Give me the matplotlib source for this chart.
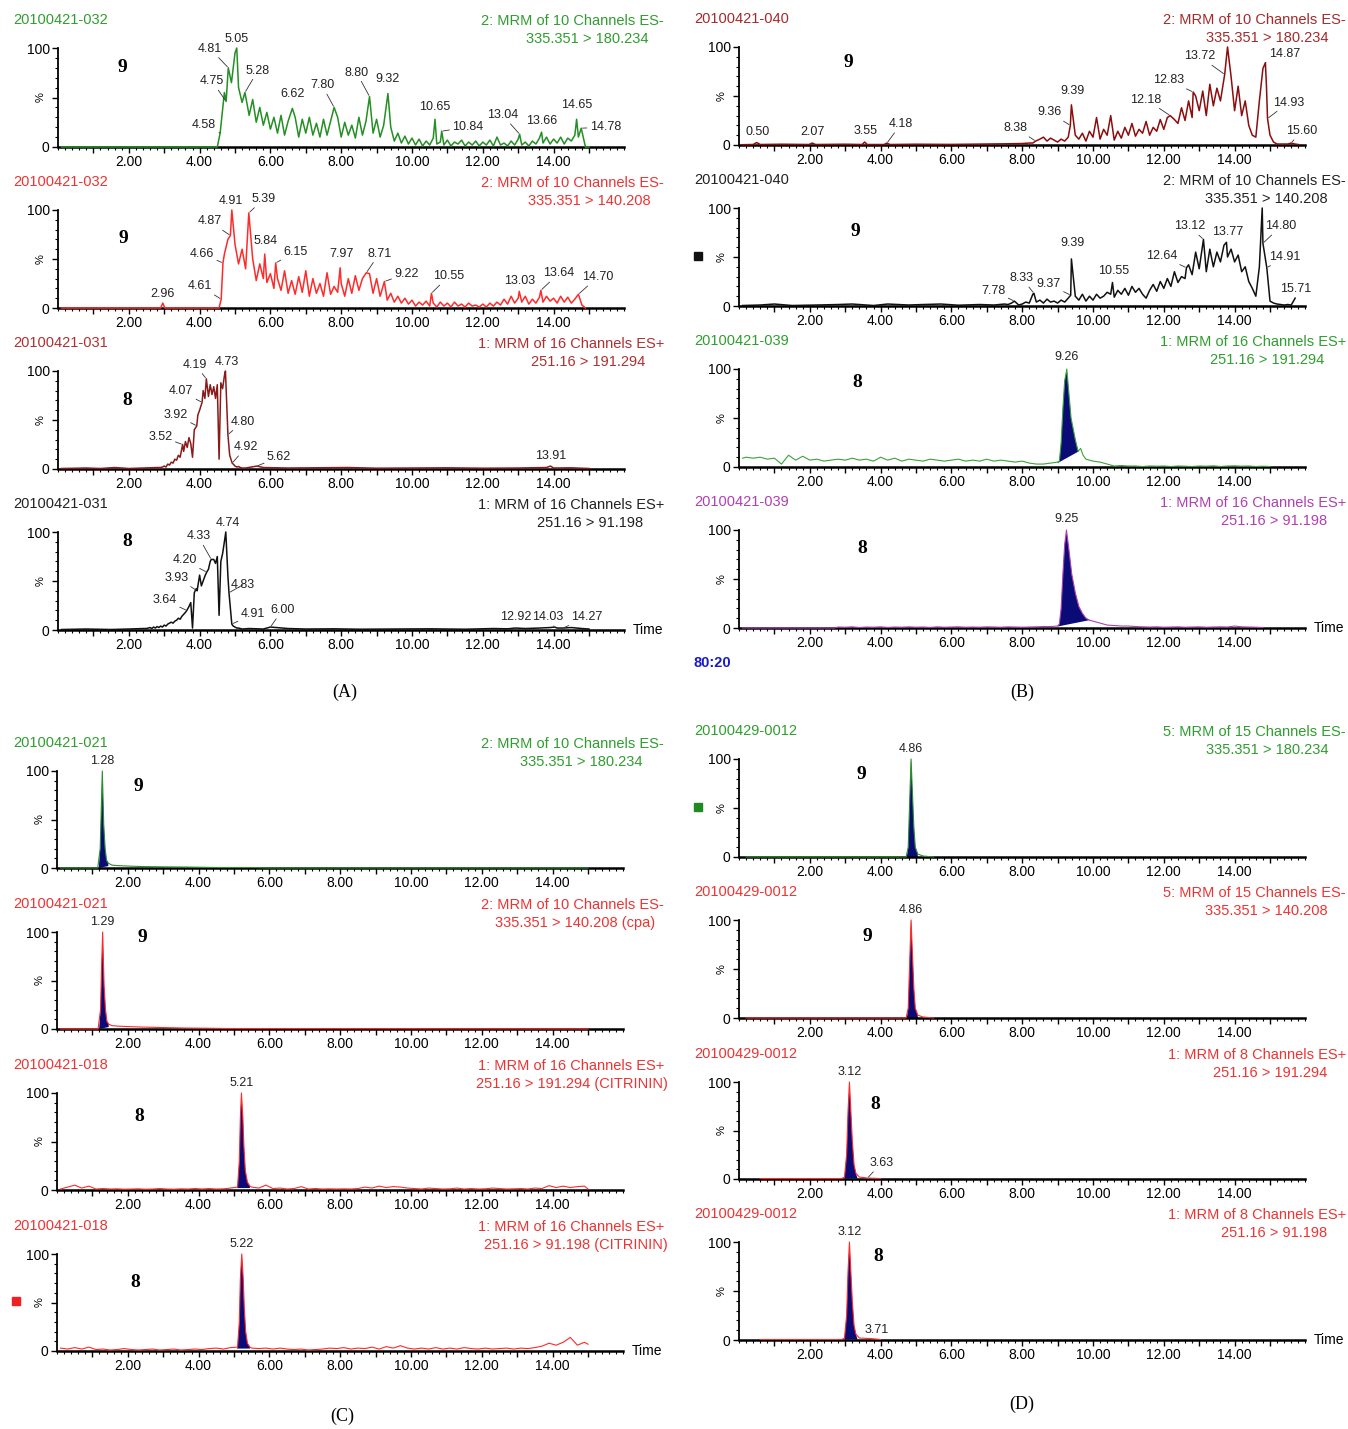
import numpy as np
import matplotlib.pyplot as plt
from matplotlib.patches import Rectangle
from matplotlib.ticker import MultipleLocator

plt.rcParams['font.family'] = ['Liberation Sans', 'DejaVu Sans']

W, H = 1348, 1429
PX_MIN = 35.4          # pixels per minute on the time axis
NAVY = '#0b0b78'

# ---------------- data (times in min, intensity in %) ----------------
# (A) 20100421-032 / -031
a1_base_t, a1_base_y = [0.1], [0]
a1_grid_t0, a1_grid_dt = 4.5, 0.1
a1_grid = [0, 35, 55, 90, 65,
           95, 60, 45, 40, 32, 48, 25, 40, 22, 35,
           18, 30, 14, 32, 12, 26, 20, 30, 10, 28,
           14, 30, 12, 24, 10, 28, 12, 26, 15, 30,
           10, 25, 12, 22, 9, 30, 12, 26, 20, 14,
           28, 10, 22, 14, 20, 6, 14, 4, 11, 3,
           9, 2, 8, 1, 6, 2, 9, 3, 5, 2,
           7, 1, 5, 3, 7, 1, 5, 2, 6, 1,
           5, 2, 7, 1, 10, 2, 4, 1, 6, 2,
           8, 2, 5, 1, 6, 3, 9, 4, 10, 3,
           8, 4, 10, 3, 9, 6, 12, 10, 5, 0,
           0]
a1_pk_t = [4.58, 4.75, 4.81, 5.05, 5.28, 6.62, 7.80, 8.80, 9.32, 10.65, 10.84, 13.04, 13.66, 14.65, 14.78]
a1_pk_y = [14, 46, 80, 100, 55, 39, 40, 51, 54, 28, 16, 13, 15, 28, 19]

a2_base_t, a2_base_y = [0.1, 2.9, 3.02, 4.55, 14.9], [0, 0, 0, 0, 0]
a2_grid_t0, a2_grid_dt = 4.6, 0.1
a2_grid = [3, 55, 70, 60,
           65, 45, 60, 40, 35, 50, 28, 45, 30, 26,
           35, 20, 30, 18, 38, 15, 28, 14, 32, 16,
           38, 12, 30, 15, 25, 12, 36, 14, 22, 16,
           25, 12, 30, 15, 33, 18, 30, 22, 35, 15,
           30, 12, 20, 8, 15, 6, 12, 5, 10, 4,
           8, 2, 6, 3, 7, 2, 5, 1, 6, 2,
           5, 1, 6, 2, 4, 1, 5, 2, 3, 1,
           4, 1, 5, 2, 6, 3, 9, 4, 12, 5,
           10, 6, 12, 4, 9, 5, 11, 6, 12, 7,
           10, 5, 12, 6, 11, 5, 9, 8, 3]
a2_pk_t = [2.96, 4.61, 4.66, 4.87, 4.91, 5.39, 5.84, 6.15, 7.97, 8.71, 9.22, 10.55, 13.03, 13.64, 14.70]
a2_pk_y = [5, 9, 46, 74, 100, 97, 55, 46, 41, 36, 27, 15, 17, 18, 14]

a3_base_t = [0.1, 0.8, 1.2, 1.6, 2.0, 2.4, 2.8, 5.3, 5.8, 6.5, 7.2, 8.2, 9.0, 10.0, 11.0, 12.0, 13.0, 13.8, 14.0, 14.5, 15.0]
a3_base_y = [0.5, 1, 0.5, 1.5, 0.5, 1, 1.5, 1, 1.5, 1, 1.2, 1.5, 0.8, 1, 1.2, 0.8, 1, 1.5, 1, 1.2, 0.5]
a3_grid_t0, a3_grid_dt = 2.9, 0.05
a3_grid = [1.5, 2, 3, 2, 5, 4, 7, 6, 10, 9, 14, 12,
           20, 18, 28, 22, 32, 26, 12, 40, 38, 55,
           60, 58, 80, 72, 88, 74, 86, 76, 84, 72,
           86, 10, 88, 82, 95, 70, 35, 14, 8, 5,
           3, 2, 2.5, 1.5, 1]
a3_pk_t = [3.52, 3.92, 4.07, 4.19, 4.73, 4.80, 4.92, 5.62, 13.91]
a3_pk_y = [25, 44, 68, 92, 100, 35, 6, 3, 3]

a4_base_t = [0.1, 0.8, 1.5, 2.0, 2.4, 5.4, 5.8, 6.5, 7.0, 7.8, 8.5, 9.5, 10.5, 11.5, 12.3, 12.7, 13.2, 13.6, 13.9, 14.1, 14.5, 14.8, 15.0]
a4_base_y = [0.5, 1, 0.5, 1, 1.5, 1.5, 1, 1.5, 1, 1.2, 0.8, 1, 1.2, 0.8, 1.5, 1.2, 1.5, 2, 2.5, 2, 2.5, 1.5, 1]
a4_grid_t0, a4_grid_dt = 2.5, 0.05
a4_grid = [1.5, 2, 2.5, 1.5, 3, 2, 3.5, 2.5, 4, 3,
           5, 4, 6, 7, 8, 7, 9, 10, 12, 11,
           14, 16, 18, 20, 24, 28, 2, 38, 42, 36,
           56, 45, 50, 55, 60, 62, 70, 65, 72, 68,
           75, 15, 70, 78, 90, 85, 55, 20, 8, 4,
           3, 2, 2, 1.5, 1]
a4_pk_t = [3.64, 3.93, 4.20, 4.33, 4.74, 4.83, 4.91, 6.00, 12.92, 14.03, 14.27]
a4_pk_y = [20, 40, 59, 72, 100, 38, 6, 3, 2, 3, 2]

# (B) 20100421-040 / -039
b1_base_t = [0.1, 0.4, 0.6, 1.2, 1.98, 2.16, 3.0, 3.48, 3.62, 4.1, 4.26, 5.0, 6.0, 7.0, 7.5, 8.0, 8.2, 15.3, 15.5, 15.7, 15.8]
b1_base_y = [0.3, 0.5, 0.5, 0.8, 0.5, 0.5, 0.8, 0.5, 0.5, 0.5, 0.5, 0.8, 0.6, 1, 1.2, 1.5, 2, 1, 1, 1, 0.5]
b1_grid_t0, b1_grid_dt = 8.3, 0.1
b1_grid = [2, 5, 6, 8, 4, 7, 5,
           3, 6, 4, 8, 15, 10, 6, 12, 4, 14,
           8, 28, 6, 16, 10, 30, 5, 14, 7, 18,
           10, 22, 9, 16, 12, 24, 10, 18, 14, 26,
           16, 28, 18, 26, 22, 38, 25, 45, 28, 50,
           35, 55, 30, 62, 40, 58, 45, 80, 42, 70,
           35, 60, 30, 45, 20, 10, 8, 45, 78, 60,
           10, 3, 1]
b1_spk_t, b1_spk_y = [13.80], [100]
b1_pk_t = [0.50, 2.07, 3.55, 4.18, 8.38, 9.36, 9.39, 12.18, 12.83, 13.72, 14.87, 14.93, 15.60]
b1_pk_y = [2.5, 2, 3, 2, 4, 20, 41, 30, 54, 72, 84, 27, 2]

b2_base_t = [0.1, 0.6, 1.0, 1.5, 2.2, 2.8, 3.2, 3.8, 4.2, 4.8, 5.2, 5.7, 6.2, 6.8, 7.2, 7.5]
b2_base_y = [0.5, 1, 2, 0.5, 1, 1.5, 2, 0.5, 2, 1, 1.5, 2, 0.8, 1.5, 1, 2]
b2_grid_t0, b2_grid_dt = 7.6, 0.1
b2_grid = [1.5, 3, 2, 1,
           2, 4, 3, 12, 4, 6, 3, 7, 4, 5,
           3, 6, 4, 8, 12, 10, 6, 12, 5, 10,
           6, 12, 8, 10, 14, 12, 9, 16, 12, 18,
           11, 20, 14, 18, 12, 8, 16, 22, 15, 25,
           18, 28, 20, 35, 24, 30, 28, 42, 32, 55,
           38, 50, 35, 58, 40, 55, 45, 62, 50, 58,
           45, 52, 35, 40, 25, 18, 10, 40, 55, 30,
           5, 3, 2, 1.5, 1, 1.5, 1]
b2_spk_t, b2_spk_y = [14.78], [100]
b2_pk_t = [7.78, 8.33, 9.37, 9.39, 10.55, 12.64, 13.12, 13.77, 14.80, 14.91, 15.71]
b2_pk_y = [5, 13, 11, 48, 24, 39, 68, 65, 64, 39, 8]

b3_grid_t0, b3_grid_dt = 0.2, 0.2
b3_grid = [10, 9, 10, 8, 9, 3, 12, 7, 11, 7,
           8, 6, 7, 8, 7, 9, 7, 8, 6, 10,
           7, 9, 6, 8, 7, 6, 8, 7, 6, 7,
           8, 6, 7, 6, 8, 6, 7, 6, 5, 6,
           4, 3, 3, 4, 5, 88, 45, 16, 8, 6,
           5, 3, 1, 1.5, 1, 1, 0.5, 1, 0.8, 1,
           0.5, 1, 0.8, 0.5, 1, 0.8, 1.2, 0.5, 1, 1.2,
           0.8, 1, 0.5, 0.8, 0.5]
b3_spk_t = [0.1, 9.05, 9.1, 9.15, 9.2, 9.32, 9.38, 9.5, 9.58, 9.65, 9.72]
b3_spk_y = [9, 6, 25, 60, 88, 75, 50, 28, 16, 19, 12]
b3_pk_t, b3_pk_y = [9.26], [100]
b3_fill_t, b3_fill_b = [9.0, 9.6], [4, 16]

b4_base_t, b4_base_y = [0.1, 2.7], [0, 0]
b4_grid_t0, b4_grid_dt = 2.8, 0.2
b4_grid = [1, 0.8, 1.2, 0.5, 1, 0.8, 1.2, 0.6, 1, 0.8,
           1.2, 0.8, 1, 0.6, 1.2, 0.8, 1, 1.2, 0.8, 1,
           0.8, 1.2, 1, 0.8, 1.2, 1, 0.8, 1, 1.2, 1.5,
           1.5, 2, 85, 55, 22, 10, 7, 5, 3, 2.5,
           2, 2, 1.5, 1.2, 1, 1.2, 0.8, 1, 1.2, 0.8,
           1, 1.2, 0.8, 1, 1.2, 1, 2, 1.2, 1, 0.8,
           0.5]
b4_spk_t = [9.05, 9.1, 9.15, 9.32, 9.4, 9.5, 9.7, 9.9]
b4_spk_y = [4, 20, 55, 80, 55, 36, 15, 8]
b4_pk_t, b4_pk_y = [9.25], [100]
b4_fill_t, b4_fill_b = [9.0, 9.9], [1.5, 8]

# (C) 20100421-021 / -018
c1_spk_t = [0.1, 1.15, 1.22, 1.25, 1.32, 1.36, 1.4, 1.45, 1.55, 1.7, 2.0, 2.4, 3.0, 3.6, 4.0, 4.5, 5.5, 6.0, 15.0]
c1_spk_y = [0, 0, 20, 60, 45, 20, 8, 5, 3, 2.5, 2, 1.5, 1.2, 1, 0.8, 0.5, 0.5, 0, 0]
c1_pk_t, c1_pk_y = [1.28], [100]
c1_fill_t, c1_fill_b = [1.18, 1.45], [0, 2]

c2_spk_t = [0.1, 1.16, 1.23, 1.26, 1.33, 1.37, 1.41, 1.46, 1.55, 1.7, 2.0, 2.4, 3.0, 3.6, 4.2, 4.8, 15.0]
c2_spk_y = [0, 0, 20, 65, 45, 20, 8, 5, 3.5, 3, 2.5, 2, 1.5, 1, 0.8, 0.5, 0]
c2_pk_t, c2_pk_y = [1.29], [100]
c2_fill_t, c2_fill_b = [1.19, 1.46], [0, 2]

c3_grid_t0, c3_grid_dt = 0.1, 0.2
c3_grid = [1, 3, 5, 2, 4, 1, 1.5, 1, 1.2, 0.8,
           1, 1.2, 0.8, 1, 1.5, 1, 0.8, 1.2, 1, 1.5,
           1, 1.5, 1, 1.2, 2, 5, 20, 3, 2, 5,
           1.5, 2, 1, 1.5, 3.5, 1, 1.5, 1, 1.2, 1,
           1.2, 1, 1.5, 3, 2, 4, 2.5, 3.5, 3, 2,
           1.5, 1, 2, 1.5, 1, 1.2, 2, 1, 1.5, 1,
           1.2, 2, 1.5, 1, 1.2, 1.5, 1, 2, 1.5, 4.5,
           2.5, 4, 2.5, 3.5, 4]
c3_spk_t = [5.1, 5.15, 5.18, 5.25, 5.28, 5.32, 5.38, 5.45, 15.0]
c3_spk_y = [3, 30, 75, 75, 45, 20, 8, 4, 1]
c3_pk_t, c3_pk_y = [5.21], [100]
c3_fill_t, c3_fill_b = [5.08, 5.45], [2, 2]

c4_grid_t0, c4_grid_dt = 0.1, 0.2
c4_grid = [3, 2, 3.5, 2, 4, 1.5, 2, 1, 1.5, 2.5,
           1.5, 1, 1.5, 2, 1, 1.5, 2, 1, 1.5, 2,
           1.5, 2.5, 3, 2, 3.5, 5, 20, 3, 2.5, 3,
           2, 3, 2, 1.5, 2, 1, 1.5, 2, 3, 2.5,
           3.5, 2, 3, 2.5, 4, 2, 4.5, 3, 5.5, 3,
           2, 3, 2, 3.5, 2, 3, 2, 3.5, 2.5, 2,
           3, 2, 2.5, 3, 2, 3, 2.5, 3.5, 5, 8,
           6, 9, 14, 6, 9]
c4_spk_t = [5.1, 5.15, 5.18, 5.26, 5.29, 5.33, 5.38, 5.45, 15.0]
c4_spk_y = [4, 30, 75, 75, 45, 20, 8, 4, 7]
c4_pk_t, c4_pk_y = [5.22], [100]
c4_fill_t, c4_fill_b = [5.08, 5.45], [2.5, 2.5]

# (D) 20100429-0012
d1_spk_t = [0.2, 4.72, 4.78, 4.82, 4.9, 4.94, 4.98, 5.05, 5.2, 5.5]
d1_spk_y = [0, 0, 10, 55, 65, 30, 10, 3, 1, 0]
d1_pk_t, d1_pk_y = [4.86], [100]
d1_fill_t, d1_fill_b = [4.74, 5.05], [0, 0]

d2_spk_t = [0.2, 4.72, 4.78, 4.82, 4.9, 4.94, 4.98, 5.05, 5.2, 5.5]
d2_spk_y = [0, 0, 10, 55, 65, 30, 10, 3, 1, 0]
d2_pk_t, d2_pk_y = [4.86], [100]
d2_fill_t, d2_fill_b = [4.74, 5.05], [0, 0]

d3_spk_t = [0.6, 2.9, 2.98, 3.04, 3.08, 3.16, 3.2, 3.25, 3.3, 3.4, 4.0]
d3_spk_y = [0.5, 0.5, 2, 25, 70, 70, 40, 15, 6, 2, 0.5]
d3_pk_t, d3_pk_y = [3.12, 3.63], [100, 1]
d3_fill_t, d3_fill_b = [2.98, 3.35], [0.5, 0.5]

d4_spk_t = [0.6, 2.9, 2.98, 3.04, 3.08, 3.16, 3.2, 3.25, 3.3, 3.4, 4.0]
d4_spk_y = [0.5, 0.5, 2, 25, 70, 70, 40, 15, 6, 2, 0.5]
d4_pk_t, d4_pk_y = [3.12, 3.71], [100, 1.5]
d4_fill_t, d4_fill_b = [2.98, 3.35], [0.5, 0.5]

# label offsets (pixels, label centre relative to peak)
a1_off = [(-16, 8), (-14, 20), (-18, 19), (0, 9), (13, 22), (0, 14), (-12, 22), (-13, 24), (0, 15),
          (0, 12), (26, 4), (-17, 19), (0, 11), (0, 14), (24, 1)]
a2_off = [(0, 9), (-21, 13), (-21, 9), (-21, 14), (-1, 9), (15, 14), (1, 13), (20, 11), (1, 14),
          (13, 19), (22, 8), (17, 17), (0, 10), (18, 17), (19, 17)]
a3_off = [(-22, 8), (-21, 11), (-21, 11), (-11, 14), (1, 9), (15, 13), (14, 16), (22, 9), (0, 10)]
a4_off = [(-22, 10), (-20, 13), (-22, 12), (-13, 23), (2, 9), (14, 8), (21, 10), (12, 17), (0, 11),
          (-7, 10), (24, 11)]
b1_off = [(1, 11), (0, 11), (1, 11), (14, 19), (-20, 13), (-21, 13), (1, 14), (-24, 16), (-25, 12),
          (-25, 18), (19, 9), (21, 16), (10, 12)]
b2_off = [(-21, 10), (-12, 15), (-22, 11), (1, 16), (1, 11), (-25, 12), (-14, 13), (1, 10), (18, 17),
          (18, 11), (1, 9)]
top_off = [(0, 10)]

# ---------------- helpers ----------------
def grid_times(t0, dt, vals):
    return t0 + dt * np.arange(len(vals))


def build(loose_t, loose_y, fixed_t, fixed_y):
    lt, ly = np.asarray(loose_t, float), np.asarray(loose_y, float)
    ft, fy = np.asarray(fixed_t, float), np.asarray(fixed_y, float)
    if len(ft) and len(lt):
        keep = np.min(np.abs(lt[:, None] - ft[None, :]), axis=1) > 0.025
        lt, ly = lt[keep], ly[keep]
    t = np.concatenate([lt, ft])
    y = np.concatenate([ly, fy])
    o = np.argsort(t, kind='stable')
    return t[o], y[o]


fig = plt.figure(figsize=(W / 100, H / 100), dpi=100)


def ftext(x, y, s, **kw):
    fig.text(x / W, 1 - y / H, s, **kw)


def draw_panel(left, y0, y100, color, tcolor, sample, line1, line2, l2_right,
               cmpd, cmpd_xy, t, y, lab_t, lab_y, lab_off, fill=None, time_label=False, lw=0.8):
    ax = fig.add_axes([left / W, 1 - y0 / H, 16 * PX_MIN / W, (y0 - y100) / H])
    ax.set_xlim(0, 16)
    ax.set_ylim(0, 100)
    ax.patch.set_alpha(0)
    for s in ('top', 'right'):
        ax.spines[s].set_visible(False)
    ax.spines['left'].set_linewidth(1.3)
    ax.spines['bottom'].set_linewidth(1.8)
    ax.set_xticks(range(1, 16))
    ax.set_xticklabels([f'{v}.00' if v % 2 == 0 else '' for v in range(1, 16)])
    ax.xaxis.set_minor_locator(MultipleLocator(0.2))
    ax.set_yticks([0, 50, 100])
    ax.set_yticklabels(['0', '', '100'])
    ax.yaxis.set_minor_locator(MultipleLocator(10))
    ax.tick_params(which='major', length=4, width=1, labelsize=10, pad=2)
    ax.tick_params(which='minor', length=2.2, width=0.8)
    ax.text(-0.03, 0.5, '%', transform=ax.transAxes, rotation=90,
            ha='center', va='center', fontsize=8)

    if fill is not None:
        (f0, f1), (b0, b1) = fill
        m = (t >= f0) & (t <= f1)
        xs = np.concatenate([[f0], t[m], [f1]])
        ys = np.concatenate([[b0], y[m], [b1]])
        ax.fill(xs, ys, color=NAVY, lw=0, zorder=2, clip_on=False)
    ax.plot(t, y, color=color, lw=lw, clip_on=False, zorder=3)

    for pt, py, (dx, dy) in zip(lab_t, lab_y, lab_off):
        lead = abs(dx) > 6
        ax.annotate(f'{pt:.2f}', xy=(pt, py), xytext=(dx, dy), textcoords='offset pixels',
                    ha='center', va='center', fontsize=9, color='#222222',
                    annotation_clip=False, zorder=4,
                    arrowprops=dict(arrowstyle='-', lw=0.6, color='#333333',
                                    shrinkA=0, shrinkB=1) if lead else None)

    ax.text(cmpd_xy[0], cmpd_xy[1], cmpd, family=['Liberation Serif', 'DejaVu Serif'],
            fontweight='bold', fontsize=14, ha='center', va='center')

    right_col = left > 400
    ftext(694 if right_col else 13, y100 - 28, sample, color=tcolor, fontsize=10.5, va='center')
    ftext(1346 if right_col else 664, y100 - 27, line1, color=tcolor, fontsize=10.5,
          va='center', ha='right')
    ftext(l2_right, y100 - 9, line2, color=tcolor, fontsize=10.5, va='center', ha='right')
    if time_label:
        ax.text(1.014, 0, 'Time', transform=ax.transAxes, ha='left', va='center', fontsize=10)
    return ax


GREEN, GREEN_T = '#248f24', '#2f9e2f'
RED, RED_T = '#ff2a2a', '#ee3333'
MAROON, MAROON_T = '#8b1a1a', '#b03030'
BLACK = '#111111'
PURPLE = '#b040b0'

# ---- (A)
t, y = build(a1_base_t + list(grid_times(a1_grid_t0, a1_grid_dt, a1_grid)),
             a1_base_y + a1_grid, a1_pk_t, a1_pk_y)
draw_panel(58, 147, 48, GREEN, GREEN_T, '20100421-032', '2: MRM of 10 Channels ES-',
           '335.351 > 180.234', 648, '9', (1.81, 80), t, y, a1_pk_t, a1_pk_y, a1_off, lw=1.1)

t, y = build(a2_base_t + list(grid_times(a2_grid_t0, a2_grid_dt, a2_grid)),
             a2_base_y + a2_grid, a2_pk_t, a2_pk_y)
draw_panel(58, 308, 210, RED, RED_T, '20100421-032', '2: MRM of 10 Channels ES-',
           '335.351 > 140.208', 651, '9', (1.84, 71), t, y, a2_pk_t, a2_pk_y, a2_off, lw=1.1)

t, y = build(a3_base_t + list(grid_times(a3_grid_t0, a3_grid_dt, a3_grid)),
             a3_base_y + a3_grid, a3_pk_t, a3_pk_y)
draw_panel(58, 469, 371, MAROON, MAROON_T, '20100421-031', '1: MRM of 16 Channels ES+',
           '251.16 > 191.294', 645, '8', (1.95, 70), t, y, a3_pk_t, a3_pk_y, a3_off, lw=1.1)

t, y = build(a4_base_t + list(grid_times(a4_grid_t0, a4_grid_dt, a4_grid)),
             a4_base_y + a4_grid, a4_pk_t, a4_pk_y)
draw_panel(58, 630, 532, BLACK, '#222222', '20100421-031', '1: MRM of 16 Channels ES+',
           '251.16 > 91.198', 643, '8', (1.95, 90), t, y, a4_pk_t, a4_pk_y, a4_off,
           time_label=True, lw=1.1)

# ---- (B)
t, y = build(b1_base_t + list(grid_times(b1_grid_t0, b1_grid_dt, b1_grid)),
             b1_base_y + b1_grid, b1_spk_t + b1_pk_t, b1_spk_y + b1_pk_y)
draw_panel(739, 145, 47, '#8b0d0d', '#a52a2a', '20100421-040', '2: MRM of 10 Channels ES-',
           '335.351 > 180.234', 1328, '9', (3.1, 84), t, y, b1_pk_t, b1_pk_y, b1_off, lw=1.1)

t, y = build(b2_base_t + list(grid_times(b2_grid_t0, b2_grid_dt, b2_grid)),
             b2_base_y + b2_grid, b2_spk_t + b2_pk_t, b2_spk_y + b2_pk_y)
draw_panel(739, 306, 208, BLACK, '#222222', '20100421-040', '2: MRM of 10 Channels ES-',
           '335.351 > 140.208', 1328, '9', (3.3, 76), t, y, b2_pk_t, b2_pk_y, b2_off, lw=1.1)

t, y = build(list(grid_times(b3_grid_t0, b3_grid_dt, b3_grid)), b3_grid,
             b3_spk_t + b3_pk_t, b3_spk_y + b3_pk_y)
draw_panel(739, 467, 369, '#3aa33a', GREEN_T, '20100421-039', '1: MRM of 16 Channels ES+',
           '251.16 > 191.294', 1324, '8', (3.33, 86), t, y, b3_pk_t, b3_pk_y, [(0, 12)],
           fill=(b3_fill_t, b3_fill_b))

t, y = build(b4_base_t + list(grid_times(b4_grid_t0, b4_grid_dt, b4_grid)),
             b4_base_y + b4_grid, b4_spk_t + b4_pk_t, b4_spk_y + b4_pk_y)
draw_panel(739, 628, 530, PURPLE, PURPLE, '20100421-039', '1: MRM of 16 Channels ES+',
           '251.16 > 91.198', 1327, '8', (3.47, 81), t, y, b4_pk_t, b4_pk_y, [(0, 11)],
           fill=(b4_fill_t, b4_fill_b), time_label=True)

# ---- (C)
t, y = build([], [], c1_spk_t + c1_pk_t, c1_spk_y + c1_pk_y)
draw_panel(57, 868, 771, '#2a8f2a', GREEN_T, '20100421-021', '2: MRM of 10 Channels ES-',
           '335.351 > 180.234', 643, '9', (2.31, 84), t, y, c1_pk_t, c1_pk_y, top_off,
           fill=(c1_fill_t, c1_fill_b))

t, y = build([], [], c2_spk_t + c2_pk_t, c2_spk_y + c2_pk_y)
draw_panel(57, 1029, 932, RED, RED_T, '20100421-021', '2: MRM of 10 Channels ES-',
           '335.351 > 140.208 (cpa)', 655, '9', (2.42, 94), t, y, c2_pk_t, c2_pk_y, top_off,
           fill=(c2_fill_t, c2_fill_b))

t, y = build(list(grid_times(c3_grid_t0, c3_grid_dt, c3_grid)), c3_grid,
             c3_spk_t + c3_pk_t, c3_spk_y + c3_pk_y)
draw_panel(57, 1190, 1093, RED, RED_T, '20100421-018', '1: MRM of 16 Channels ES+',
           '251.16 > 191.294 (CITRININ)', 668, '8', (2.31, 76), t, y, c3_pk_t, c3_pk_y, top_off,
           fill=(c3_fill_t, c3_fill_b))

t, y = build(list(grid_times(c4_grid_t0, c4_grid_dt, c4_grid)), c4_grid,
             c4_spk_t + c4_pk_t, c4_spk_y + c4_pk_y)
draw_panel(57, 1351, 1254, RED, RED_T, '20100421-018', '1: MRM of 16 Channels ES+',
           '251.16 > 91.198 (CITRININ)', 668, '8', (2.2, 71), t, y, c4_pk_t, c4_pk_y, top_off,
           fill=(c4_fill_t, c4_fill_b), time_label=True)

# ---- (D)
t, y = build([], [], d1_spk_t + d1_pk_t, d1_spk_y + d1_pk_y)
draw_panel(739, 857, 759, '#2a8f2a', GREEN_T, '20100429-0012', '5: MRM of 15 Channels ES-',
           '335.351 > 180.234', 1328, '9', (3.47, 84), t, y, d1_pk_t, d1_pk_y, top_off,
           fill=(d1_fill_t, d1_fill_b))

t, y = build([], [], d2_spk_t + d2_pk_t, d2_spk_y + d2_pk_y)
draw_panel(739, 1018, 920, RED, RED_T, '20100429-0012', '5: MRM of 15 Channels ES-',
           '335.351 > 140.208', 1328, '9', (3.62, 83), t, y, d2_pk_t, d2_pk_y, top_off,
           fill=(d2_fill_t, d2_fill_b))

t, y = build([], [], d3_spk_t + d3_pk_t, d3_spk_y + d3_pk_y)
draw_panel(739, 1179, 1082, RED, RED_T, '20100429-0012', '1: MRM of 8 Channels ES+',
           '251.16 > 191.294', 1327, '8', (3.84, 77), t, y, d3_pk_t, d3_pk_y, [(0, 10), (14, 15)],
           fill=(d3_fill_t, d3_fill_b))

t, y = build([], [], d4_spk_t + d4_pk_t, d4_spk_y + d4_pk_y)
draw_panel(739, 1340, 1242, RED, RED_T, '20100429-0012', '1: MRM of 8 Channels ES+',
           '251.16 > 91.198', 1327, '8', (3.93, 85), t, y, d4_pk_t, d4_pk_y, [(0, 10), (6, 9)],
           fill=(d4_fill_t, d4_fill_b), time_label=True)

# ---- figure decorations
for lab, x, yy in [('(A)', 345, 692), ('(B)', 1022, 692), ('(C)', 342, 1416), ('(D)', 1022, 1404)]:
    ftext(x, yy, lab, family=['Liberation Serif', 'DejaVu Serif'], fontsize=13,
          ha='center', va='center')
ftext(693, 663, '80:20', color='#1a1acd', fontweight='bold', fontsize=10.5, va='center')

for x, yy, c in [(698, 256, '#111111'), (16, 1301, '#ee2222'), (698, 807, '#1f8a1f')]:
    fig.add_artist(Rectangle(((x - 4) / W, 1 - (yy + 4) / H), 8 / W, 8 / H,
                             transform=fig.transFigure, color=c))

fig.savefig('out.png', dpi=100)
